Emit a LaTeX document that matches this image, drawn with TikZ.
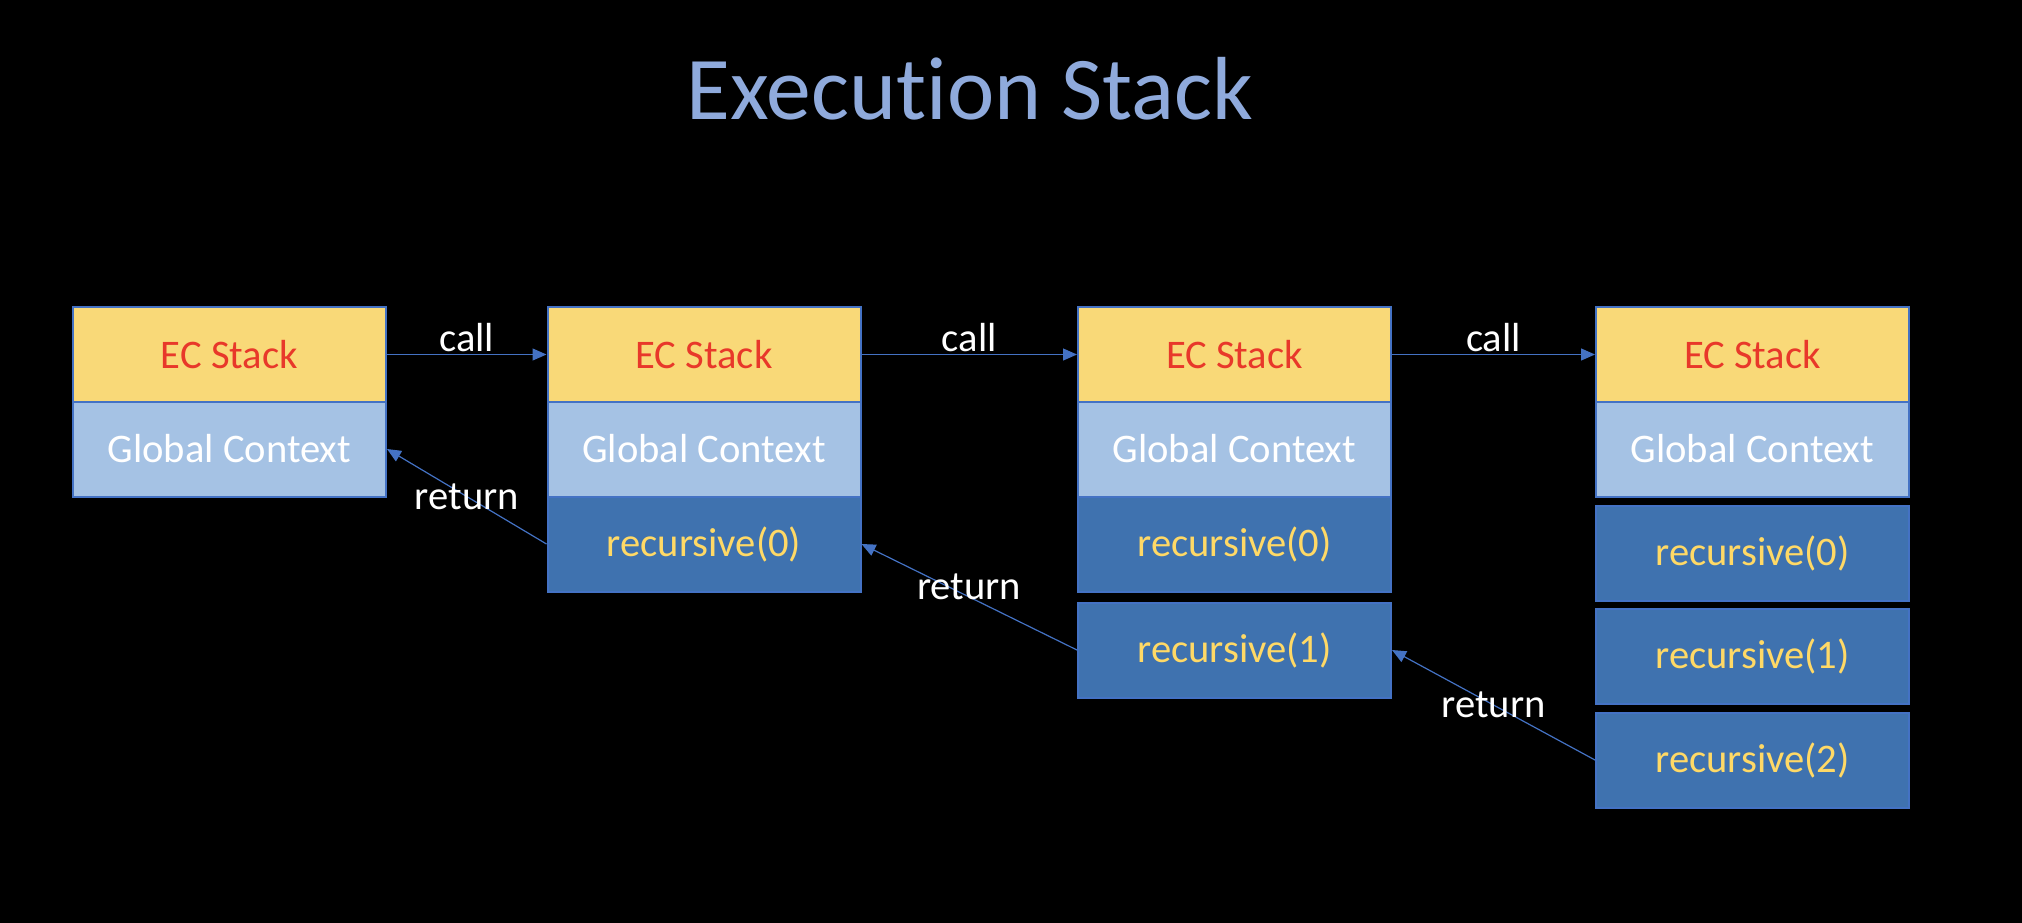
\documentclass[tikz,border=0pt]{standalone}
\usepackage{fontspec}
\setmainfont{Carlito}[Ligatures=CommonOff]
\usetikzlibrary{arrows.meta}
\definecolor{ecyellow}{HTML}{F9D978}
\definecolor{ecred}{HTML}{E8382A}
\definecolor{gclight}{HTML}{A5C2E4}
\definecolor{recdark}{HTML}{3F72AF}
\definecolor{edgeblue}{HTML}{4472C4}
\definecolor{rectext}{HTML}{FFD966}
\definecolor{titleblue}{HTML}{8FAADC}
\tikzset{
  cell/.style={draw=edgeblue, line width=1pt, minimum width=156.5pt, minimum height=47.5pt, inner sep=0pt, font=\fontsize{20.3}{24}\selectfont},
  ecbox/.style={cell, fill=ecyellow, text=ecred},
  gcbox/.style={cell, fill=gclight, text=white},
  recbox/.style={cell, fill=recdark, text=rectext},
  conn/.style={draw=edgeblue, line width=0.6pt, -{Triangle[length=7pt,width=6pt]}},
  lbl/.style={text=white, font=\fontsize{20.3}{24}\selectfont, inner sep=1pt}
}
\begin{document}
\begin{tikzpicture}[x=0.5pt,y=-0.5pt]
\useasboundingbox (0,0) rectangle (2022,922);
\fill[black] (-4,-4) rectangle (2026,926);
\node[text=titleblue, font=\fontsize{44.8}{50}\selectfont, anchor=base] (title) at (970,119) {Execution Stack};
% box 1
\node[ecbox] (e1) at (229.5,354.5) {EC Stack};
\node[gcbox] (g1) at (229.5,449) {Global Context};
% box 2
\node[ecbox] (e2) at (704,354.5) {EC Stack};
\node[gcbox] (g2) at (704,449) {Global Context};
\node[recbox] (r20) at (704,544) {recursive(0)};
% box 3
\node[ecbox] (e3) at (1234.5,354.5) {EC Stack};
\node[gcbox] (g3) at (1234.5,449) {Global Context};
\node[recbox] (r30) at (1234.5,544) {recursive(0)};
\node[recbox] (r31) at (1234.5,650) {recursive(1)};
% box 4
\node[ecbox] (e4) at (1752.5,354.5) {EC Stack};
\node[gcbox] (g4) at (1752.5,449) {Global Context};
\node[recbox] (r40) at (1752.5,553) {recursive(0)};
\node[recbox] (r41) at (1752.5,656) {recursive(1)};
\node[recbox] (r42) at (1752.5,760) {recursive(2)};
% calls
\draw[conn] (e1.east) -- node[lbl, midway, above] (c1) {call} (e2.west);
\draw[conn] (e2.east) -- node[lbl, midway, above] (c2) {call} (e3.west);
\draw[conn] (e3.east) -- node[lbl, midway, above] (c3) {call} (e4.west);
% returns
\draw[conn] (r20.west) -- node[lbl, midway] (t1) {return} (g1.east);
\draw[conn] (r31.west) -- node[lbl, midway, yshift=5pt] (t2) {return} (r20.east);
\draw[conn] (r42.west) -- node[lbl, midway] (t3) {return} (r31.east);
\end{tikzpicture}
\end{document}
